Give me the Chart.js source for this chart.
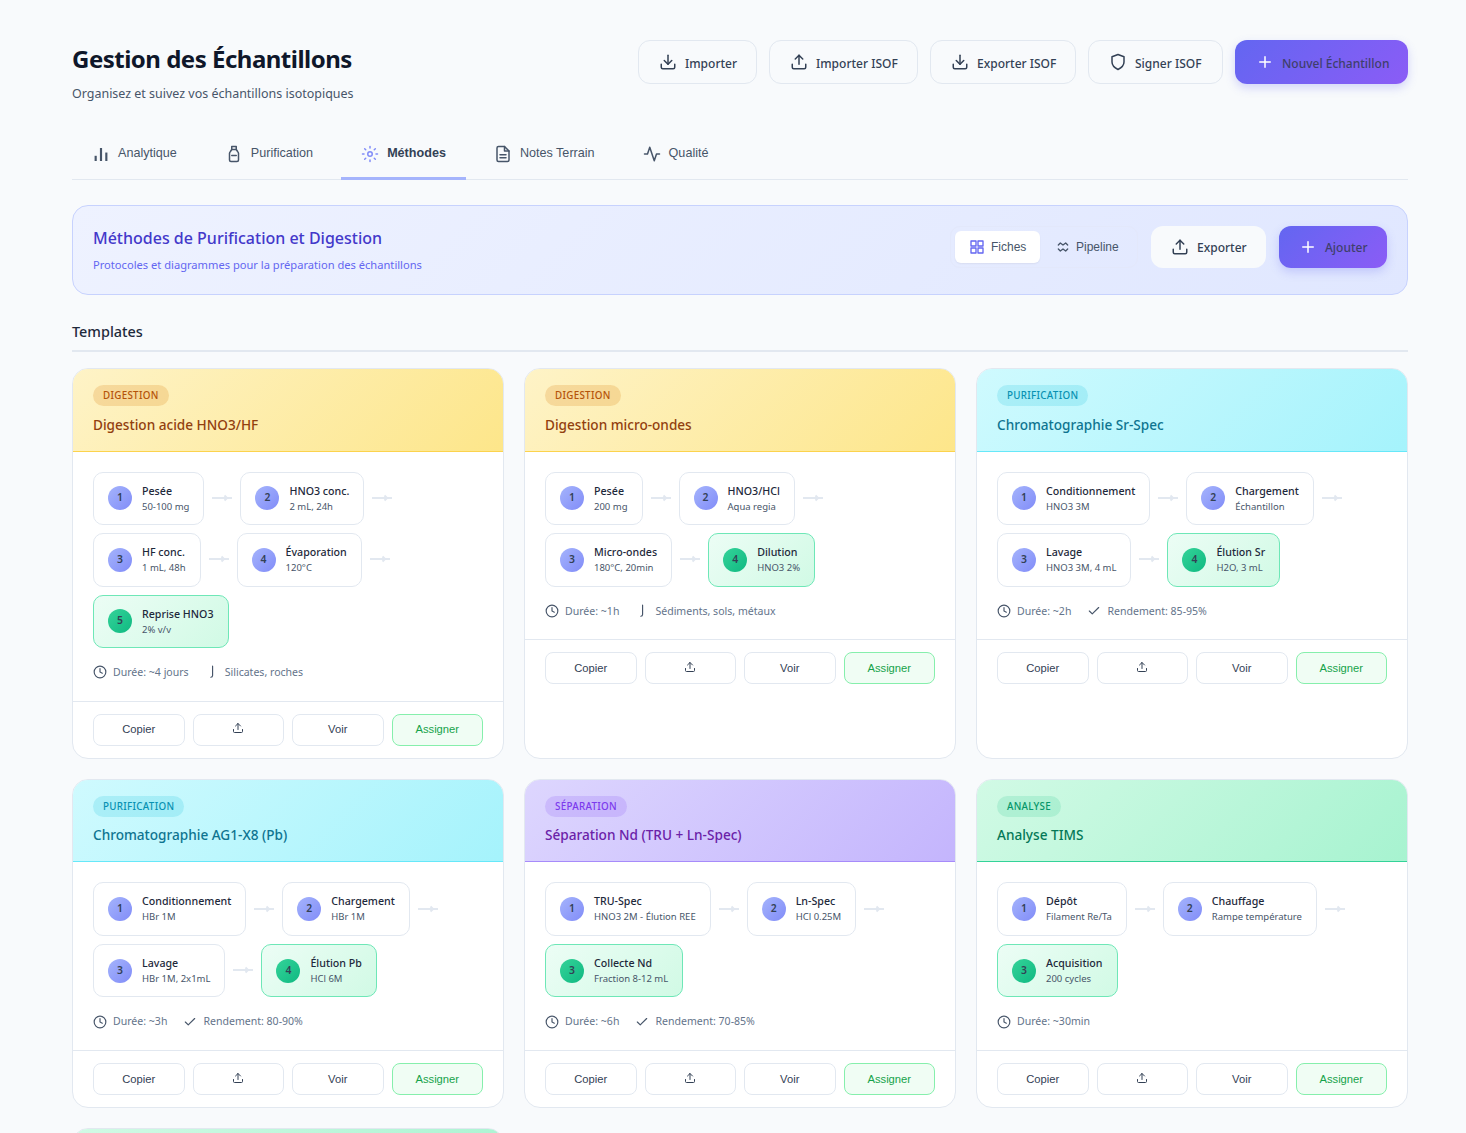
<!DOCTYPE html>
<html lang="fr"><head><meta charset="utf-8"><title>Gestion des Échantillons</title>
<script src="https://cdn.jsdelivr.net/npm/chart.js@4"></script>
<style>
*{box-sizing:border-box;margin:0;padding:0}
html,body{height:1133px;overflow:hidden;background:#f8fafc}
body{font-family:"Noto Sans",sans-serif;line-height:1.5;color:#334155;font-size:16px}
#page{position:absolute;left:72px;top:0;width:1336px}
svg.i{fill:none;stroke:currentColor;stroke-width:2;stroke-linecap:round;stroke-linejoin:round;flex:none;display:block}
header{position:absolute;top:40px;left:0;width:1336px;height:64px}
h1{position:absolute;left:0;top:0;font-size:24px;letter-spacing:-.5px;font-weight:700;color:#0f172a;line-height:38px}
.sub{position:absolute;left:0;top:44px;font-size:12.48px;color:#475569;line-height:20px}
.acts{position:absolute;right:0;top:0;display:flex;gap:12px}
.btn{height:44px;display:flex;align-items:center;gap:8px;padding:0 0 0 20px;border:1px solid #e2e8f0;border-radius:12px;font-size:12px;font-weight:500;color:#334155;background:#f8fafc}
.btn:nth-child(1){width:119px}.btn:nth-child(2){width:149px}.btn:nth-child(3){width:146px}.btn:nth-child(4){width:135px}.btn:nth-child(5){width:173px}
.btn span{position:relative;top:2px}
.bb span{position:relative;top:1px}
.btn.pri{border:0;color:#3f3f6b;padding-left:21px;background:linear-gradient(135deg,#6366f1,#8b5cf6);box-shadow:0 4px 10px rgba(99,102,241,.25)}
.btn.pri svg{color:#fff}
nav{position:absolute;top:128px;left:0;width:1336px;height:52px;border-bottom:1px solid #e2e8f0;display:flex;gap:8px}
.tab{height:52px;padding:0 20px 1px;display:flex;align-items:center;gap:8px;font-family:"Liberation Sans",sans-serif;font-size:12.6px;font-weight:400;color:#475569}
.tab.on{font-weight:700;color:#334155;border-bottom:3px solid #a5b4fc;padding:2px 20px 0}
.tab canvas{display:block;flex:none}
.banner{position:absolute;top:205px;left:0;width:1336px;height:90px;border:1px solid #c7d2fe;border-radius:16px;background:linear-gradient(135deg,#eef2ff,#e0e7ff)}
.banner h2{position:absolute;left:20px;top:19px;font-size:16px;line-height:26px;font-weight:500;color:#4338ca}
.banner p{position:absolute;left:20px;top:50px;font-size:11.14px;line-height:18px;color:#6366f1}
.tog{position:absolute;left:877px;top:20px;width:188px;height:42px;border:1px solid #e3e8fb;border-radius:10px;display:flex;padding:4px}
.tog div{height:32px;display:flex;align-items:center;gap:5px;font-family:"Liberation Sans",sans-serif;font-size:12px;border-radius:6px;padding:0 0 0 15px;color:#475569}
.tog .on{background:#fff;width:85px;padding-left:14px;gap:6px;box-shadow:0 1px 2px rgba(0,0,0,.06)}
.tog .on svg{color:#6366f1}
.bb{position:absolute;top:20px;height:42px;padding:0 20px;border-radius:12px;display:flex;align-items:center;gap:8px;font-size:12px;font-weight:500}
.bex{left:1078px;width:115px;background:#f8fafc;color:#334155}
.bad{left:1206px;width:108px;color:#3f3f6b;background:linear-gradient(135deg,#6366f1,#8b5cf6);box-shadow:0 4px 10px rgba(99,102,241,.25)}
.bad svg{color:#fff}
h3{position:absolute;top:321px;left:0;font-size:14.4px;line-height:22px;font-weight:500;color:#1e293b}
.rule{position:absolute;top:350px;left:0;width:1336px;height:2px;background:#e2e8f0}
#grid{position:absolute;top:368px;left:0;width:1336px;display:grid;grid-template-columns:repeat(3,432px);gap:20px}
.card{background:#fff;border:1px solid #e2e8f0;border-radius:16px;overflow:hidden}
.ch{padding:16px 20px;height:82.5px;border-bottom:1px solid}
.badge{display:inline-block;font-size:9.8px;font-weight:500;letter-spacing:.3px;text-transform:uppercase;line-height:15px;padding:3px 10px;border-radius:12px;margin-bottom:7.7px;vertical-align:top}
.ct{font-size:13.6px;font-weight:500;line-height:21.6px}
.cb{padding:20px}
.steps{display:flex;flex-wrap:wrap;gap:8px;align-items:center}
.step{display:flex;align-items:center;gap:10px;padding:10px 14px;border:1px solid #e2e8f0;border-radius:10px;background:#fff}
.step.end{border-color:#6ee7b7;background:linear-gradient(135deg,#ecfdf5,#d1fae5)}
.num{width:24px;height:24px;border-radius:50%;display:flex;align-items:center;justify-content:center;font-size:10.4px;font-weight:600;color:#334155;background:linear-gradient(135deg,#a5b4fc,#818cf8);flex:none}
.end .num{background:linear-gradient(135deg,#34d399,#10b981)}
.sn{font-size:10.65px;font-weight:500;line-height:17.1px;color:#1e293b;white-space:nowrap}
.sd{font-size:9.5px;line-height:14.4px;color:#475569;white-space:nowrap}
.arr{width:20px;height:12px;color:#e2e8f0;flex:none;margin-top:-1px}
.meta{display:flex;align-items:center;gap:16px;margin-top:16px;font-size:10.55px;line-height:16.8px;color:#64748b}
.meta span{display:flex;align-items:center;gap:6px}
.meta svg{color:#475569}
.cf{border-top:1px solid #e2e8f0;padding:12px 20px;display:flex;gap:8px}
.fb{flex:1;height:32px;display:flex;align-items:center;justify-content:center;border:1px solid #e2e8f0;border-radius:8px;background:#fff;font-family:"Liberation Sans",sans-serif;font-size:11.2px;font-weight:400;color:#334155}
.fb.as{background:#f0fdf4;border-color:#86efac;color:#16a34a}
.fb svg{margin-top:-3px}
</style></head><body>
<div id="page"></div>
<script>
// ---- content ----
const pageTitle = "Gestion des Échantillons";
const pageSubtitle = "Organisez et suivez vos échantillons isotopiques";
const headerActions = [["download","Importer"],["upload","Importer ISOF"],["download","Exporter ISOF"],["shield","Signer ISOF"]];
const tabNames = ["Analytique","Purification","Méthodes","Notes Terrain","Qualité"];
const tabIcons = ["bars","bottle","sun","file","activity"];
const activeTab = "Méthodes";
const analytiqueBarValues = [3, 8, 5];
const analytiqueBarLabels = ["a","b","c"];
const kinds = {
  digestion:{g:"#fef3c7,#fde68a",line:"#fcd34d",title:"#92400e",bbg:"rgba(217,119,6,.2)",btx:"#b45309"},
  purification:{g:"#cffafe,#a5f3fc",line:"#67e8f9",title:"#0e7490",bbg:"rgba(6,182,212,.17)",btx:"#0891b2"},
  separation:{g:"#ddd6fe,#c4b5fd",line:"#a78bfa",title:"#6b21a8",bbg:"rgba(139,92,246,.2)",btx:"#7c3aed"},
  analyse:{g:"#d1fae5,#a7f3d0",line:"#34d399",title:"#047857",bbg:"rgba(16,185,129,.15)",btx:"#059669"}
};
const cardTitles = ["Digestion acide HNO3/HF","Digestion micro-ondes","Chromatographie Sr-Spec","Chromatographie AG1-X8 (Pb)","Séparation Nd (TRU + Ln-Spec)","Analyse TIMS"];
const cardKinds = ["digestion","digestion","purification","purification","separation","analyse"];
const cardBadges = ["Digestion","Digestion","Purification","Purification","Séparation","Analyse"];
const cardSteps = [
 [["Pesée","50-100 mg"],["HNO3 conc.","2 mL, 24h"],["HF conc.","1 mL, 48h"],["Évaporation","120°C"],["Reprise HNO3","2% v/v"]],
 [["Pesée","200 mg"],["HNO3/HCl","Aqua regia"],["Micro-ondes","180°C, 20min"],["Dilution","HNO3 2%"]],
 [["Conditionnement","HNO3 3M"],["Chargement","Échantillon"],["Lavage","HNO3 3M, 4 mL"],["Élution Sr","H2O, 3 mL"]],
 [["Conditionnement","HBr 1M"],["Chargement","HBr 1M"],["Lavage","HBr 1M, 2x1mL"],["Élution Pb","HCl 6M"]],
 [["TRU-Spec","HNO3 2M - Élution REE"],["Ln-Spec","HCl 0.25M"],["Collecte Nd","Fraction 8-12 mL"]],
 [["Dépôt","Filament Re/Ta"],["Chauffage","Rampe température"],["Acquisition","200 cycles"]]
];
const cardDurations = ["Durée: ~4 jours","Durée: ~1h","Durée: ~2h","Durée: ~3h","Durée: ~6h","Durée: ~30min"];
const cardNotes = [["hook","Silicates, roches"],["hook","Sédiments, sols, métaux"],["check","Rendement: 85-95%"],["check","Rendement: 80-90%"],["check","Rendement: 70-85%"],null];

const icons = {
 download:'<path d="M21 15v4a2 2 0 0 1-2 2H5a2 2 0 0 1-2-2v-4"/><path d="M7 10l5 5 5-5"/><path d="M12 15V3"/>',
 upload:'<path d="M21 15v4a2 2 0 0 1-2 2H5a2 2 0 0 1-2-2v-4"/><path d="M17 8l-5-5-5 5"/><path d="M12 3v12"/>',
 shield:'<path d="M12 22s8-4 8-10V5l-8-3-8 3v7c0 6 8 10 8 10z"/>',
 plus:'<path d="M12 5v14M5 12h14"/>',
 bottle:'<path d="M9 2h6v4l2 3a3 3 0 0 1 1 2v9a2 2 0 0 1-2 2H8a2 2 0 0 1-2-2v-9a3 3 0 0 1 1-2l2-3z"/><path d="M9 6h6M9 14h6"/>',
 sun:'<circle cx="12" cy="12" r="3"/><path d="M12 2v2M12 20v2M4.9 4.9l1.4 1.4M17.7 17.7l1.4 1.4M2 12h2M20 12h2M4.9 19.1l1.4-1.4M17.7 6.3l1.4-1.4"/>',
 file:'<path d="M14 2H6a2 2 0 0 0-2 2v16a2 2 0 0 0 2 2h12a2 2 0 0 0 2-2V8z"/><path d="M14 2v6h6M8 13h8M8 17h8"/>',
 activity:'<path d="M22 12h-4l-3 9L9 3l-3 9H2"/>',
 grid:'<rect x="3" y="3" width="7.5" height="7.5"/><rect x="13.5" y="3" width="7.5" height="7.5"/><rect x="3" y="13.5" width="7.5" height="7.5"/><rect x="13.5" y="13.5" width="7.5" height="7.5"/>',
 pipe:'<path d="M5 9l3-3 4 3 4-3 3 3M5 15l3 3 4-3 4 3 3-3"/>',
 clock:'<circle cx="12" cy="12" r="10"/><path d="M12 6v6l4 2"/>',
 check:'<path d="M20 6L9 17l-5-5"/>',
 hook:'<path d="M13 2v16a3 3 0 0 1-3 3"/>'
};
const ic = (n,s,c) => `<svg class="i" width="${s}" height="${s}" viewBox="0 0 24 24"${c?` style="color:${c}"`:""}>${icons[n]}</svg>`;

let h = `<header><h1>${pageTitle}</h1><div class="sub">${pageSubtitle}</div><div class="acts">`;
headerActions.forEach(a => h += `<div class="btn">${ic(a[0],18)}<span>${a[1]}</span></div>`);
h += `<div class="btn pri">${ic("plus",18)}<span>Nouvel Échantillon</span></div></div></header><nav>`;
tabNames.forEach((t,i) => {
  const on = t===activeTab;
  const icon = tabIcons[i]==="bars" ? '<canvas id="barsIcon" width="18" height="18" style="width:18px;height:18px"></canvas>' : ic(tabIcons[i],18,on?"#818cf8":"");
  h += `<div class="tab${on?" on":""}">${icon}<span>${t}</span></div>`;
});
h += `</nav><div class="banner"><h2>Méthodes de Purification et Digestion</h2><p>Protocoles et diagrammes pour la préparation des échantillons</p>
<div class="tog"><div class="on">${ic("grid",16)}<span>Fiches</span></div><div>${ic("pipe",16)}<span>Pipeline</span></div></div>
<div class="bb bex">${ic("upload",18)}<span>Exporter</span></div><div class="bb bad">${ic("plus",18)}<span>Ajouter</span></div></div>
<h3>Templates</h3><div class="rule"></div><div id="grid">`;
cardTitles.forEach((t,i) => {
  const k = kinds[cardKinds[i]], st = cardSteps[i];
  h += `<div class="card"><div class="ch" style="background:linear-gradient(135deg,${k.g});border-color:${k.line}"><span class="badge" style="background:${k.bbg};color:${k.btx}">${cardBadges[i]}</span><div class="ct" style="color:${k.title}">${t}</div></div><div class="cb"><div class="steps">`;
  st.forEach((s,j) => {
    const end = j===st.length-1;
    h += `<div class="step${end?" end":""}"><div class="num">${j+1}</div><div><div class="sn">${s[0]}</div><div class="sd">${s[1]}</div></div></div>`;
    if(!end) h += `<svg class="arr" viewBox="0 0 20 12" fill="none" stroke="currentColor" stroke-width="2"><path d="M0 6h20"/><path d="M12.5 3.5l2.5 2.5-2.5 2.5"/></svg>`;
  });
  const n = cardNotes[i];
  h += `</div><div class="meta"><span>${ic("clock",14)}${cardDurations[i]}</span>${n?`<span>${ic(n[0],14)}${n[1]}</span>`:""}</div></div>
  <div class="cf"><div class="fb">Copier</div><div class="fb">${ic("upload",12)}</div><div class="fb">Voir</div><div class="fb as">Assigner</div></div></div>`;
});
h += `<div class="card" style="height:120px"><div class="ch" style="background:linear-gradient(135deg,${kinds.analyse.g});border-color:${kinds.analyse.line}"></div></div></div>`;
document.getElementById("page").innerHTML = h;

new Chart(document.getElementById("barsIcon"),{type:"bar",
  data:{labels:analytiqueBarLabels,datasets:[{data:analytiqueBarValues,backgroundColor:"#475569",barThickness:1.5}]},
  options:{responsive:false,animation:false,devicePixelRatio:1,layout:{padding:{top:3,bottom:2,left:1,right:1}},
    plugins:{legend:{display:false},tooltip:{enabled:false}},
    scales:{x:{display:false},y:{display:false,min:0,max:8}}}});
</script></body></html>
